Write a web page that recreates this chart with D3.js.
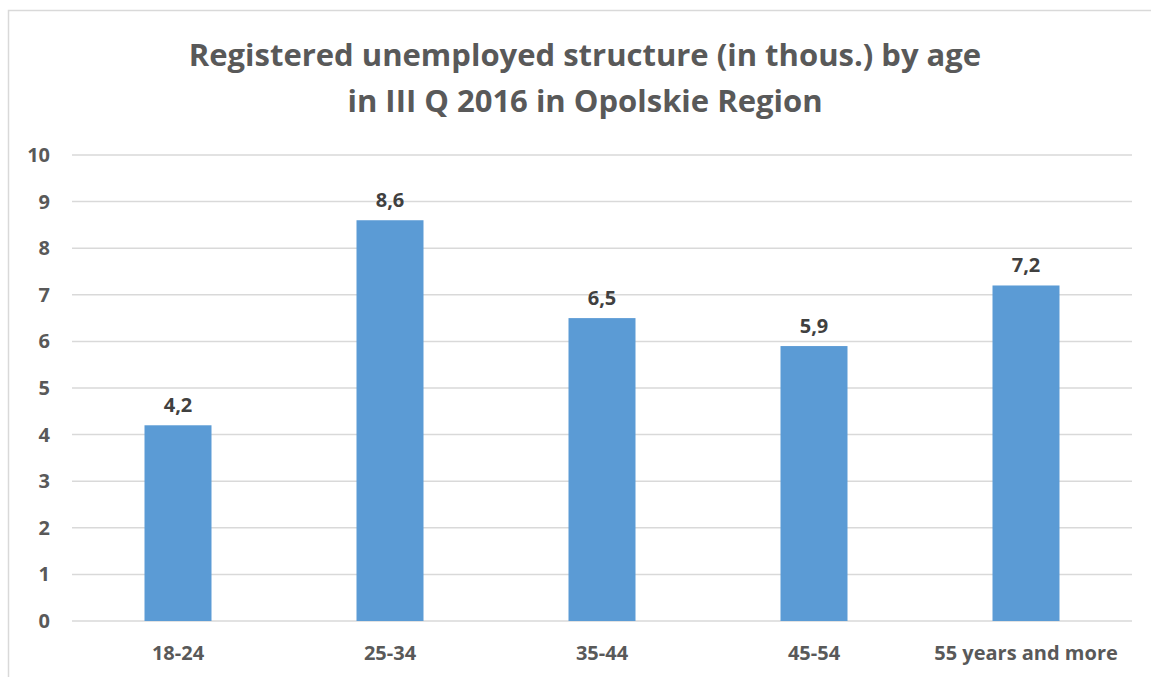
<!DOCTYPE html>
<html><head><meta charset="utf-8">
<script src="https://cdn.jsdelivr.net/npm/d3@7"></script>
<style>body{margin:0;background:#fff}svg{display:block}</style>
</head><body>
<svg id="c" width="1151" height="677"></svg>
<script>
const categories = ["18-24","25-34","35-44","45-54","55 years and more"];
const values = [4.2, 8.6, 6.5, 5.9, 7.2];
const yTicks = [0,1,2,3,4,5,6,7,8,9,10];
const titleLines = ["Registered unemployed structure (in thous.) by age","in III Q 2016 in Opolskie Region"];

const svg = d3.select("#c");
const font = "'Open Sans', 'Noto Sans', sans-serif";

// chart border
svg.append("rect").attr("x",8.5).attr("y",10.5).attr("width",1160).attr("height",700)
  .attr("fill","none").attr("stroke","#d9d9d9").attr("stroke-width",1.5);

const x = d3.scaleBand().domain(categories).range([72,1132]).paddingInner(0.684).paddingOuter(0.342);
const y = d3.scaleLinear().domain([0,10]).range([621,155]);

// gridlines
svg.append("g").selectAll("line").data(yTicks).join("line")
  .attr("x1",72).attr("x2",1132).attr("y1",d=>y(d)).attr("y2",d=>y(d))
  .attr("stroke","#d9d9d9").attr("stroke-width",1.5);

// y axis labels
const yAxis = d3.axisLeft(y).tickValues(yTicks).tickSize(0).tickPadding(0);
const yg = svg.append("g").attr("transform","translate(50,0)").call(yAxis);
yg.select(".domain").remove();
yg.selectAll("text").attr("font-family",font).attr("font-weight","bold").attr("font-size",20).attr("fill","#595959");

// bars
svg.append("g").selectAll("rect").data(values).join("rect")
  .attr("x",(d,i)=>x(categories[i])).attr("width",x.bandwidth())
  .attr("y",d=>y(d)).attr("height",d=>y(0)-y(d)).attr("fill","#5b9bd5");

// data labels
svg.append("g").selectAll("text").data(values).join("text")
  .attr("x",(d,i)=>x(categories[i])+x.bandwidth()/2).attr("y",d=>y(d)-13)
  .attr("text-anchor","middle").attr("font-family",font).attr("font-weight","bold")
  .attr("font-size",20).attr("fill","#404040")
  .text(d=>d.toFixed(1).replace(".",","));

// x axis labels
const xAxis = d3.axisBottom(x).tickSize(0).tickPadding(0);
const xg = svg.append("g").attr("transform","translate(0,660)").call(xAxis);
xg.select(".domain").remove();
xg.selectAll("text").attr("y",0).attr("dy",0).attr("font-family",font).attr("font-weight","bold").attr("font-size",20).attr("fill","#595959");

// title
svg.append("g").selectAll("text").data(titleLines).join("text")
  .attr("x",585).attr("y",(d,i)=>66+i*46).attr("text-anchor","middle")
  .attr("font-family",font).attr("font-weight","bold").attr("font-size",31).attr("fill","#595959")
  .text(d=>d);
</script>
</body></html>
